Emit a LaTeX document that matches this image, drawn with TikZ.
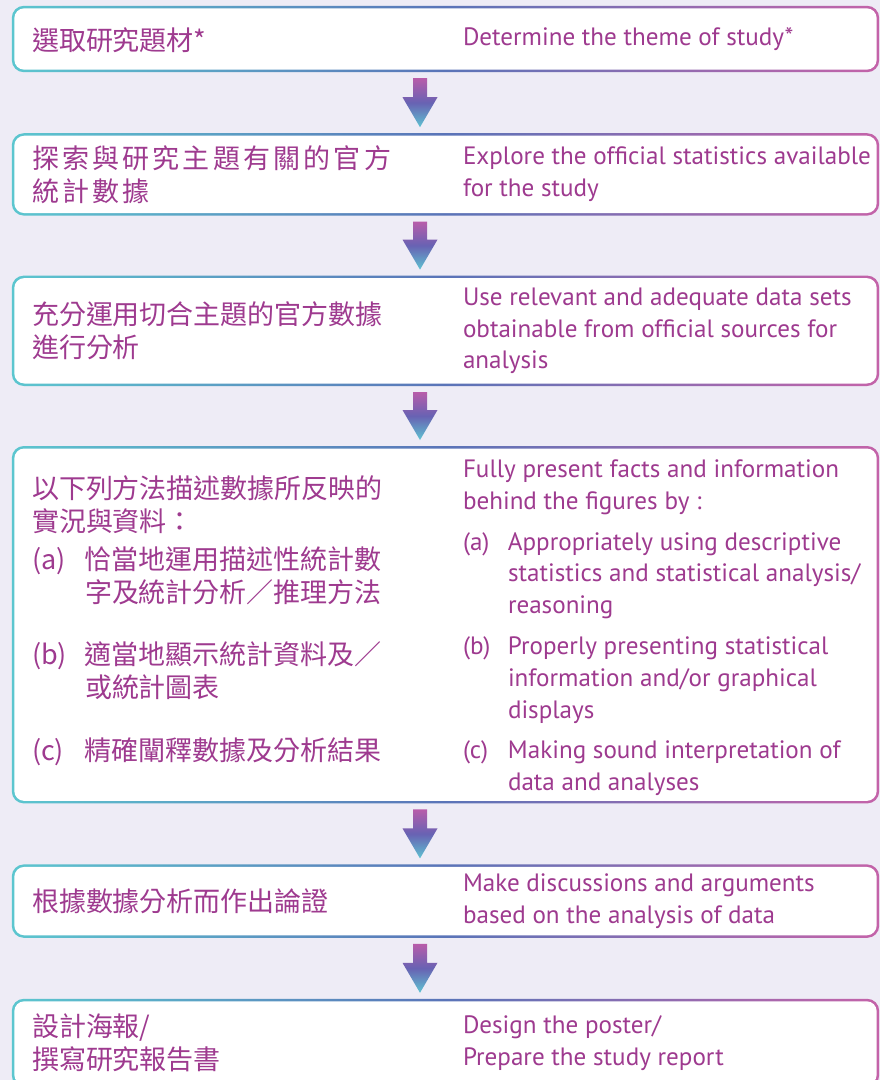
\documentclass[tikz,border=0pt]{standalone}
\usepackage{fontspec}
\usetikzlibrary{positioning}
\newfontfamily\zhfont{Noto Sans CJK TC}
\newfontfamily\enfont{PT Sans}
\definecolor{paper}{HTML}{EEECF6}
\definecolor{ink}{HTML}{9E3A8F}
\definecolor{rimleft}{HTML}{5CC6CF}
\definecolor{rimmid}{HTML}{5A74B8}
\definecolor{rimright}{HTML}{C463A9}
\definecolor{arrtop}{HTML}{B85DAA}
\definecolor{arrmid}{HTML}{6862B3}
\definecolor{arrbot}{HTML}{5EC4D2}
\tikzstyle{stage} = [rounded corners=12pt, minimum width=867pt, inner sep=0pt]
\tikzstyle{zh} = [anchor=west, inner sep=0pt, text=ink, font=\zhfont\fontsize{27}{33}\selectfont]
\tikzstyle{en} = [anchor=west, inner sep=0pt, text=ink, font=\enfont\fontsize{25.1}{31.8}\selectfont]
\newcommand\spreadzh[1]{\spreadloop#1\relax}
\def\spreadloop#1{\ifx\relax#1\else#1\kern3.2pt\expandafter\spreadloop\fi}
\newcommand\stagebox[1]{%
  \shade[rounded corners=12pt, left color=rimleft, right color=rimright, middle color=rimmid]
    (#1.south west) rectangle (#1.north east);
  \fill[white, rounded corners=10pt]
    ([shift={(2.5pt,2.5pt)}]#1.south west) rectangle ([shift={(-2.5pt,-2.5pt)}]#1.north east);}
\newcommand\stagearrow[2]{%
  \path (spine |- #1.south) coordinate (a0) (spine |- #2.north) coordinate (a1);
  \shade[top color=arrtop, bottom color=arrbot, middle color=arrmid]
    ([shift={(-7pt,-6pt)}]a0) -- ([shift={(7pt,-6pt)}]a0)
    -- ([shift={(7pt,36pt)}]a1) -- ([shift={(17.5pt,36pt)}]a1)
    -- ([yshift=6pt]a1) -- ([shift={(-17.5pt,36pt)}]a1)
    -- ([shift={(-7pt,36pt)}]a1) -- cycle;}

\begin{document}
\begin{tikzpicture}[x=1pt,y=-1pt]
  \useasboundingbox (0,0) rectangle (880,1080);
  \fill[paper] (0,0) rectangle (880,1080);
  \coordinate (spine) at (420,0);

  \node[stage, minimum height=66pt] (s1) at (445.5,39) {};
  \node[stage, minimum height=82pt, below=61pt of s1] (s2) {};
  \node[stage, minimum height=110pt, below=60pt of s2] (s3) {};
  \node[stage, minimum height=357pt, below=60pt of s3] (s4) {};
  \node[stage, minimum height=73pt, below=61pt of s4] (s5) {};
  \node[stage, minimum height=88pt, below=61pt of s5] (s6) {};
  \foreach \s in {s1, s2, s3, s4, s5, s6}
    \stagebox{\s};

  \node[zh] (s1zh) at ([xshift=20pt, yshift=-1pt]s1.west) {選取研究題材*};
  \node[en] (s1en) at ([xshift=451pt]s1.west) {Determine the theme of study*};

  \node[zh, align=left] (s2zh) at ([xshift=20pt]s2.west)
    {\spreadzh{探索與研究主題有關的官方}\\\spreadzh{統計數據}};
  \node[en, align=left] (s2en) at ([xshift=451pt]s2.west) {Explore the official statistics available\\for the study};

  \node[zh, align=left] (s3zh) at ([xshift=20pt]s3.west) {充分運用切合主題的官方數據\\進行分析};
  \node[en, align=left] (s3en) at ([xshift=451pt]s3.west)
    {Use relevant and adequate data sets\\obtainable from official sources for\\analysis};

  \node[zh] (s4zh) at ([xshift=20pt, yshift=2pt]s4.west) {\begin{tabular}{@{}p{53pt}@{}l@{}}
      \multicolumn{2}{@{}l@{}}{以下列方法描述數據所反映的}\\
      \multicolumn{2}{@{}l@{}}{實況與資料：}\\[4.5pt]
      (a) & 恰當地運用描述性統計數\\
          & 字及統計分析／推理方法\\[29.5pt]
      (b) & 適當地顯示統計資料及／\\
          & 或統計圖表\\[29.5pt]
      (c) & 精確闡釋數據及分析結果
    \end{tabular}};
  \node[en] (s4en) at ([xshift=451pt, yshift=-3pt]s4.west) {\begin{tabular}{@{}p{45pt}@{}l@{}}
      \multicolumn{2}{@{}l@{}}{Fully present facts and information}\\
      \multicolumn{2}{@{}l@{}}{behind the figures by :}\\[9pt]
      (a) & Appropriately using descriptive\\
          & statistics and statistical analysis/\\
          & reasoning\\[9pt]
      (b) & Properly presenting statistical\\
          & information and/or graphical\\
          & displays\\[9pt]
      (c) & Making sound interpretation of\\
          & data and analyses
    \end{tabular}};

  \node[zh] (s5zh) at ([xshift=20pt]s5.west) {根據數據分析而作出論證};
  \node[en, align=left] (s5en) at ([xshift=451pt]s5.west) {Make discussions and arguments\\based on the analysis of data};

  \node[zh, align=left] (s6zh) at ([xshift=20pt]s6.west) {設計海報/\\撰寫研究報告書};
  \node[en, align=left] (s6en) at ([xshift=451pt]s6.west) {Design the poster/\\Prepare the study report};

  \foreach \a/\b in {s1/s2, s2/s3, s3/s4, s4/s5, s5/s6}
    \stagearrow{\a}{\b};
\end{tikzpicture}
\end{document}
